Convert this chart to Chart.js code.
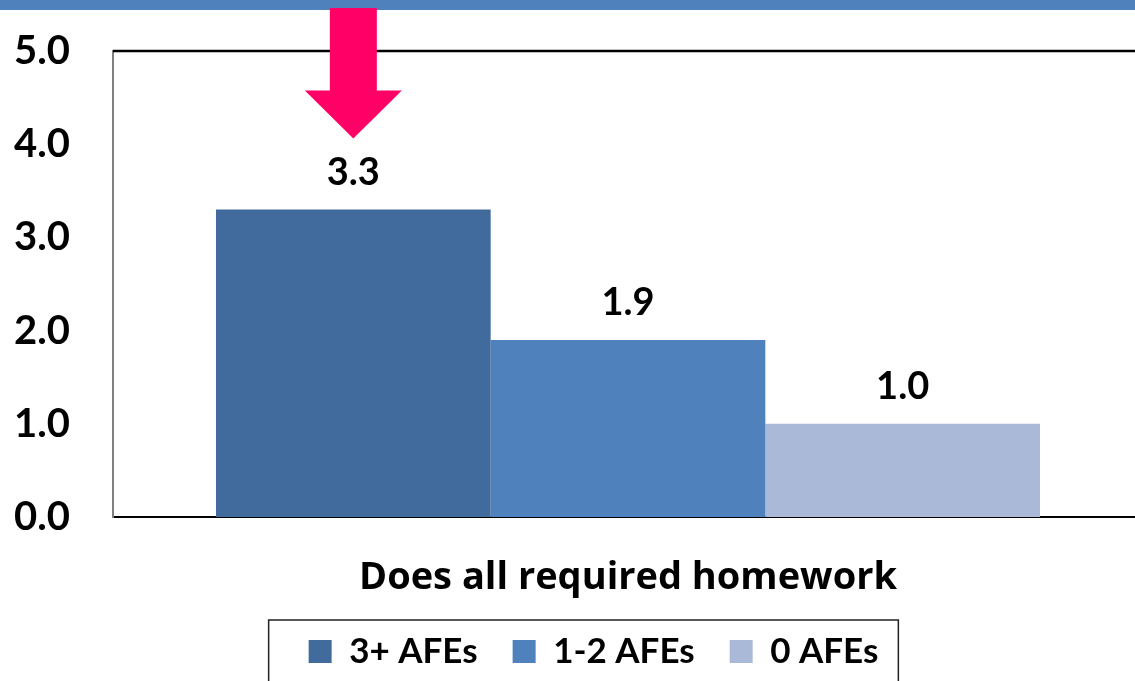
<!DOCTYPE html>
<html lang="en">
<head>
    <meta charset="UTF-8">
    <title>Does all required homework</title>
    <script src="https://cdn.jsdelivr.net/npm/chart.js"></script>
    <style>
        body {
            margin: 0;
            background: #fff;
            overflow: hidden;
        }
        canvas {
            display: block;
        }
    </style>
</head>
<body>
    <canvas id="hwChart" width="1143" height="700"></canvas>

    <script>
        // chart data
        const categories = ['Does all required homework'];
        const seriesNames = ['3+ AFEs', '1-2 AFEs', '0 AFEs'];
        const seriesValues = [3.3, 1.9, 1.0];
        const seriesColors = ['#416B9D', '#4F81BD', '#AAB9D7'];
        const yTicks = [0, 1, 2, 3, 4, 5];

        const FONT = 'Lato, "Open Sans", sans-serif';

        // blue band at the very top, top border of the plot, legend box, arrow
        const framePlugin = {
            id: 'frame',
            afterUpdate(chart) {
                // nudge the legend a bit to the right, like the original
                const lg = chart.legend;
                const dx = 22;
                lg.left += dx;
                lg.right += dx;
                (lg.legendHitBoxes || []).forEach(b => { b.left += dx; });
            },
            beforeDraw(chart) {
                const c = chart.ctx;
                c.save();
                c.fillStyle = '#4F81BD';
                c.fillRect(0, 0, chart.width, 10);
                c.restore();
            },
            afterDraw(chart) {
                const c = chart.ctx;
                const a = chart.chartArea;
                c.save();
                c.strokeStyle = '#000';
                c.lineWidth = 2.5;
                c.beginPath();
                c.moveTo(a.left, a.top);
                c.lineTo(a.right, a.top);
                c.stroke();

                // box round the legend
                const boxes = chart.legend.legendHitBoxes;
                if (boxes && boxes.length) {
                    const l = Math.min(...boxes.map(b => b.left)) - 40;
                    const r = Math.max(...boxes.map(b => b.left + b.width)) + 20;
                    const t = boxes[0].top - 14;
                    c.strokeStyle = '#222';
                    c.lineWidth = 1.5;
                    c.strokeRect(l, t, r - l, chart.height);
                }

                // pink arrow pointing at the first bar
                const bar = chart.getDatasetMeta(0).data[0];
                const cx = bar.x;
                const tip = bar.y - 71;
                c.fillStyle = '#FF0066';
                c.beginPath();
                c.moveTo(cx - 23.5, 8);
                c.lineTo(cx + 23.5, 8);
                c.lineTo(cx + 23.5, tip - 48);
                c.lineTo(cx + 48.5, tip - 48);
                c.lineTo(cx, tip);
                c.lineTo(cx - 48.5, tip - 48);
                c.lineTo(cx - 23.5, tip - 48);
                c.closePath();
                c.fill();
                c.restore();
            }
        };

        // value labels above the bars
        const valueLabels = {
            id: 'valueLabels',
            afterDatasetsDraw(chart) {
                const c = chart.ctx;
                c.save();
                c.font = 'bold 38px ' + FONT;
                c.fillStyle = '#000';
                c.textAlign = 'center';
                c.textBaseline = 'middle';
                chart.data.datasets.forEach((ds, i) => {
                    const meta = chart.getDatasetMeta(i);
                    meta.data.forEach((bar, j) => {
                        c.fillText(ds.data[j].toFixed(1), bar.x, bar.y - 37);
                    });
                });
                c.restore();
            }
        };

        const datasets = seriesNames.map((name, i) => ({
            label: name,
            data: [seriesValues[i]],
            backgroundColor: seriesColors[i],
            borderWidth: 0,
            categoryPercentage: 0.8,
            barPercentage: 1.0
        }));

        const ctx = document.getElementById('hwChart').getContext('2d');
        new Chart(ctx, {
            type: 'bar',
            data: { labels: categories, datasets: datasets },
            options: {
                responsive: false,
                animation: false,
                layout: { padding: { top: 51, left: 0, right: 0, bottom: 21 } },
                plugins: {
                    tooltip: { enabled: false },
                    legend: {
                        position: 'bottom',
                        labels: {
                            color: '#000',
                            font: { family: FONT, size: 35, weight: 'bold' },
                            boxWidth: 23,
                            boxHeight: 23,
                            padding: 35
                        }
                    }
                },
                scales: {
                    x: {
                        grid: { display: false },
                        border: { display: true, color: '#000', width: 2 },
                        ticks: {
                            color: '#000',
                            font: { family: '"Open Sans", sans-serif', size: 38, weight: 'bold' },
                            padding: 30
                        },
                        afterFit(scale) { scale.height = 82; }
                    },
                    y: {
                        min: 0,
                        max: 5,
                        afterBuildTicks(scale) {
                            scale.ticks = yTicks.map(v => ({ value: v }));
                        },
                        grid: { display: false, drawTicks: false },
                        border: { display: true, color: '#808080', width: 2 },
                        ticks: {
                            color: '#000',
                            font: { family: FONT, size: 40, weight: 'bold' },
                            padding: 43,
                            callback: v => Number(v).toFixed(1)
                        },
                        afterFit(scale) {
                            scale.width = 113;
                            scale.paddingTop = 0;
                            scale.paddingBottom = 0;
                        }
                    }
                }
            },
            plugins: [framePlugin, valueLabels]
        });
    </script>
</body>
</html>
